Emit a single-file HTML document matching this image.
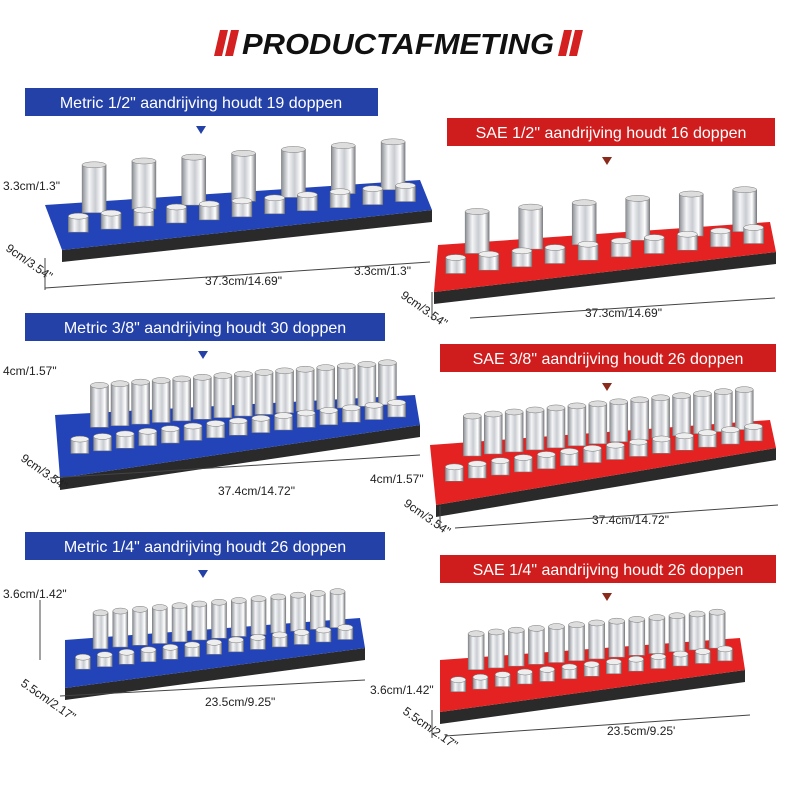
<!DOCTYPE html>
<html><head><meta charset="utf-8"><style>
html,body{margin:0;padding:0;background:#fff;width:800px;height:800px;overflow:hidden}
svg{display:block}
text{font-family:"Liberation Sans",sans-serif}
</style></head><body>
<svg id="s" width="800" height="800" viewBox="0 0 800 800" xmlns="http://www.w3.org/2000/svg">
<defs>
<linearGradient id="chrome" x1="0" x2="1" y1="0" y2="0">
<stop offset="0" stop-color="#8a8e94"/><stop offset="0.3" stop-color="#f4f5f7"/><stop offset="0.55" stop-color="#c9ccd1"/><stop offset="0.8" stop-color="#ffffff"/><stop offset="1" stop-color="#7d8086"/>
</linearGradient>
</defs>
<polygon points="220,30 228,30 222,56 214,56" fill="#d42020"/>
<polygon points="231,30 239,30 233,56 225,56" fill="#d42020"/>
<text x="398" y="54" text-anchor="middle" font-size="29" font-weight="bold" font-style="italic" fill="#111" textLength="312" lengthAdjust="spacingAndGlyphs">PRODUCTAFMETING</text>
<polygon points="564,30 572,30 566,56 558,56" fill="#d42020"/>
<polygon points="575,30 583,30 577,56 569,56" fill="#d42020"/>

<g id="trays"></g>

<rect x="25" y="88" width="353" height="28" fill="#2441a8"/>
<text x="201" y="108" text-anchor="middle" font-size="16" fill="#fff">Metric 1/2" aandrijving houdt 19 doppen</text>
<polygon points="196,126 206,126 201,134" fill="#2441a8"/>
<rect x="447" y="118" width="328" height="28" fill="#cf1c1c"/>
<text x="611" y="138" text-anchor="middle" font-size="16" fill="#fff">SAE 1/2" aandrijving houdt 16 doppen</text>
<polygon points="602,157 612,157 607,165" fill="#8a2a1a"/>
<rect x="25" y="313" width="360" height="28" fill="#2441a8"/>
<text x="205" y="333" text-anchor="middle" font-size="16" fill="#fff">Metric 3/8" aandrijving houdt 30 doppen</text>
<polygon points="198,351 208,351 203,359" fill="#2441a8"/>
<rect x="440" y="344" width="336" height="28" fill="#cf1c1c"/>
<text x="608" y="364" text-anchor="middle" font-size="16" fill="#fff">SAE 3/8" aandrijving houdt 26 doppen</text>
<polygon points="602,383 612,383 607,391" fill="#8a2a1a"/>
<rect x="25" y="532" width="360" height="28" fill="#2441a8"/>
<text x="205" y="552" text-anchor="middle" font-size="16" fill="#fff">Metric 1/4" aandrijving houdt 26 doppen</text>
<polygon points="198,570 208,570 203,578" fill="#2441a8"/>
<rect x="440" y="555" width="336" height="28" fill="#cf1c1c"/>
<text x="608" y="575" text-anchor="middle" font-size="16" fill="#fff">SAE 1/4" aandrijving houdt 26 doppen</text>
<polygon points="602,593 612,593 607,601" fill="#8a2a1a"/>

<g font-size="12" fill="#222">
<text x="3" y="190">3.3cm/1.3"</text>
<text x="5" y="250" transform="rotate(35 5 250)">9cm/3.54"</text>
<text x="205" y="285">37.3cm/14.69"</text>
<text x="354" y="275">3.3cm/1.3"</text>
<text x="400" y="297" transform="rotate(35 400 297)">9cm/3.54"</text>
<text x="585" y="317">37.3cm/14.69"</text>
<text x="3" y="375">4cm/1.57"</text>
<text x="20" y="460" transform="rotate(35 20 460)">9cm/3.54"</text>
<text x="218" y="495">37.4cm/14.72"</text>
<text x="370" y="483">4cm/1.57"</text>
<text x="403" y="505" transform="rotate(35 403 505)">9cm/3.54"</text>
<text x="592" y="524">37.4cm/14.72"</text>
<text x="3" y="598">3.6cm/1.42"</text>
<text x="20" y="685" transform="rotate(35 20 685)">5.5cm/2.17"</text>
<text x="205" y="706">23.5cm/9.25"</text>
<text x="370" y="694">3.6cm/1.42"</text>
<text x="402" y="713" transform="rotate(35 402 713)">5.5cm/2.17"</text>
<text x="607" y="735">23.5cm/9.25'</text>
</g>
<g stroke="#444" stroke-width="1" fill="none">
<line x1="45" y1="258" x2="45" y2="290"/><line x1="45" y1="288" x2="430" y2="262"/>
<line x1="432" y1="292" x2="432" y2="320"/><line x1="470" y1="318" x2="775" y2="298"/>
<line x1="50" y1="478" x2="420" y2="455"/>
<line x1="440" y1="506" x2="440" y2="528"/><line x1="455" y1="528" x2="778" y2="505"/>
<line x1="40" y1="600" x2="40" y2="660"/><line x1="60" y1="696" x2="365" y2="680"/>
<line x1="432" y1="710" x2="432" y2="738"/><line x1="445" y1="736" x2="750" y2="715"/>
</g>
</svg>
<script>
var NS="http://www.w3.org/2000/svg",g=document.getElementById("trays");
function el(n,a){var e=document.createElementNS(NS,n);for(var k in a)e.setAttribute(k,a[k]);g.appendChild(e);return e;}
function L(p,q,t){return [p[0]+(q[0]-p[0])*t,p[1]+(q[1]-p[1])*t];}
function tray(BL,BR,FR,FL,col,nT,nS,hT,wT,wS){
 el("polygon",{points:FL+" "+FR+" "+[FR[0],FR[1]+12]+" "+[FL[0],FL[1]+12],fill:"#2a2a2a"});
 el("polygon",{points:BL+" "+BR+" "+FR+" "+FL,fill:col});
 var a=L(BL,FL,.25),b=L(BR,FR,.25);
 for(var i=0;i<nT;i++){var p=L(a,b,.12+.8*i/(nT-1));
  el("rect",{x:p[0]-wT/2,y:p[1]-hT,width:wT,height:hT,fill:"url(#chrome)",stroke:"#777","stroke-width":.5});
  el("ellipse",{cx:p[0],cy:p[1]-hT,rx:wT/2,ry:3,fill:"#ddd",stroke:"#777","stroke-width":.5});}
 a=L(BL,FL,.65);b=L(BR,FR,.65);
 for(var i=0;i<nS;i++){var p=L(a,b,.06+.88*i/(nS-1));var h=wS*.8;
  el("rect",{x:p[0]-wS/2,y:p[1]-h,width:wS,height:h,fill:"url(#chrome)",stroke:"#777","stroke-width":.5});
  el("ellipse",{cx:p[0],cy:p[1]-h,rx:wS/2,ry:3,fill:"#eee",stroke:"#777","stroke-width":.5});}
}
var B="#2244b8",R="#e42222";
tray([45,205],[420,180],[432,210],[62,250],B,7,11,48,24,20);
tray([438,245],[770,222],[776,252],[434,292],R,6,10,42,24,20);
tray([55,415],[415,395],[420,425],[60,478],B,15,15,42,18,18);
tray([430,445],[770,420],[776,448],[436,505],R,14,14,40,18,18);
tray([65,640],[360,618],[365,648],[65,688],B,13,13,36,15,15);
tray([440,660],[740,638],[745,670],[440,712],R,13,13,36,16,15);
</script>
</body></html>
